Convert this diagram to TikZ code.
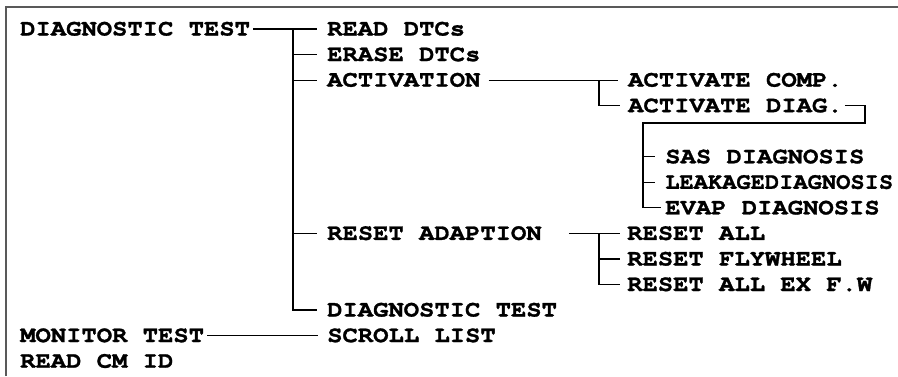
\documentclass[tikz,border=0pt]{standalone}
\usepackage{fontspec}
\setmonofont{texgyrecursor}[Extension=.otf, UprightFont=*-regular, BoldFont=*-bold, FakeStretch=1.11, BoldFeatures={FakeBold=1.2}]
\usetikzlibrary{positioning}

\begin{document}
\begin{tikzpicture}[
          x=1pt, y=-1pt,
          item/.style={
              anchor=west,
              inner sep=0pt,
              text height=13pt,
              text depth=0pt,
              font=\fontsize{23}{23}\selectfont\ttfamily\bfseries
            },
          tree/.style={draw=black, line width=1.1pt},
          frame/.style={draw=black!65, line width=2pt}
        ]
        \useasboundingbox (0,0) rectangle (898,376);
        \draw[frame] (6,376) -- (6,7) -- (898,7);

        \node[item] (diag) at (20,29) {DIAGNOSTIC TEST};
        \node[item] (readdtc) at (327,29) {READ DTCs};
        \node[item] (erasedtc) at (327,54.6) {ERASE DTCs};
        \node[item] (activ) at (327,80.1) {ACTIVATION};
        \node[item] (actcomp) at (628,80.1) {ACTIVATE COMP.};
        \node[item] (actdiag) at (628,105.7) {ACTIVATE DIAG.};
        \node[item] (sas) at (665,156.8) {SAS DIAGNOSIS};
        \node[item] (leak) at (665,182.3) {\scalebox{0.93}[1]{LEAKAGEDIAGNOSIS}};
        \node[item] (evap) at (665,207.9) {EVAP DIAGNOSIS};
        \node[item] (resetad) at (327,233.4) {RESET ADAPTION};
        \node[item] (resetall) at (627,233.4) {RESET ALL};
        \node[item] (resetfly) at (627,259) {RESET FLYWHEEL};
        \node[item] (resetex) at (627,284.5) {RESET ALL EX F.W};
        \node[item] (diagtest) at (327,310) {DIAGNOSTIC TEST};
        \node[item] (monitor) at (20,335.6) {MONITOR TEST};
        \node[item] (scroll) at (327,335.6) {SCROLL LIST};
        \node[item] (readcm) at (20,361.2) {READ CM ID};

        \coordinate (trunk) at (293,29);
        \coordinate (act_v) at (599,0);
        \coordinate (diag_r) at (865,123);
        \coordinate (diag_l) at (643,123);
        \coordinate (reset_v) at (599,0);

        \draw[tree] ([xshift=3pt]diag.east) -- ([xshift=-10pt]readdtc.west);
        \draw[tree] (trunk) |- ([xshift=-10pt]diagtest.west);
        \foreach \n in {erasedtc,activ,resetad}
          \draw[tree] (trunk |- \n.west) -- ([xshift=-10pt]\n.west);

        \draw[tree] ([xshift=8pt]activ.east) -- ([xshift=-10pt]actcomp.west);
        \draw[tree] (act_v |- actcomp.west) |- ([xshift=-8pt]actdiag.west);

        \draw[tree] ([xshift=2pt]actdiag.east) -| (diag_r) -- (diag_l) |- ([xshift=-4pt]evap.west);
        \foreach \n in {sas,leak}
          \draw[tree] (diag_l |- \n.west) -- ([xshift=-10pt]\n.west);

        \draw[tree] ([xshift=27pt]resetad.east) -- ([xshift=-7pt]resetall.west);
        \draw[tree] (reset_v |- resetall.west) |- ([xshift=-7pt]resetex.west);
        \draw[tree] (reset_v |- resetfly.west) -- ([xshift=-7pt]resetfly.west);

        \draw[tree] ([xshift=3pt]monitor.east) -- ([xshift=-9pt]scroll.west);
      \end{tikzpicture}
\end{document}
